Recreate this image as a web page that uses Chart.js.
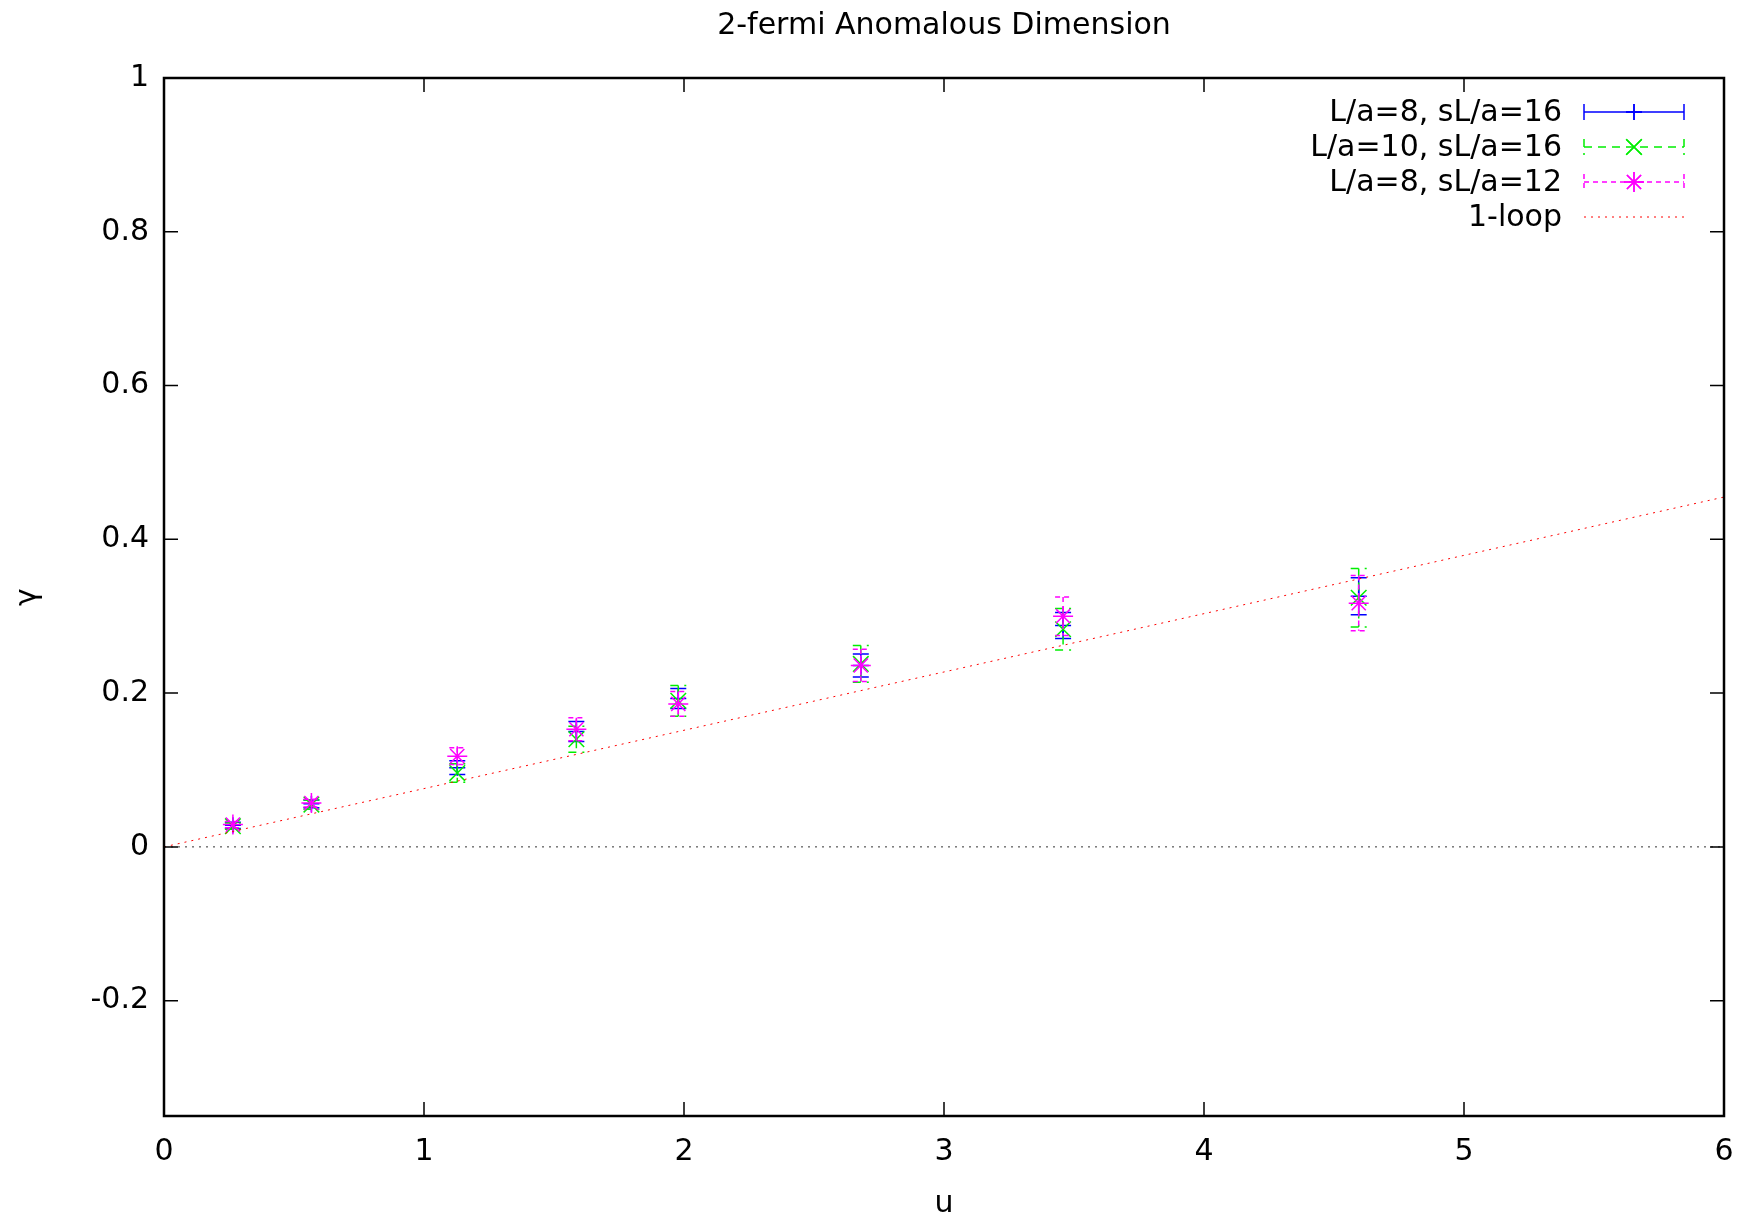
<!DOCTYPE html>
<html>
<head>
<meta charset="utf-8">
<script src="https://cdn.jsdelivr.net/npm/chart.js@4.4.0/dist/chart.umd.min.js"></script>
<style>
  html, body { margin: 0; padding: 0; background: #fff; }
  #wrap { width: 1754px; height: 1222px; }
</style>
</head>
<body>
<div id="wrap"><canvas id="gammaChart"></canvas></div>
<script>
// values
const uVals = [0.265, 0.567, 1.128, 1.586, 1.978, 2.680, 3.458, 4.595];

const gam8_16 = [0.028, 0.056, 0.103, 0.150, 0.193, 0.236, 0.288, 0.326];
const err8_16 = [0.004, 0.005, 0.009, 0.013, 0.013, 0.015, 0.017, 0.024];

const gam10_16 = [0.027, 0.055, 0.096, 0.140, 0.190, 0.238, 0.283, 0.324];
const err10_16 = [0.004, 0.006, 0.012, 0.017, 0.020, 0.024, 0.027, 0.038];

const gam8_12 = [0.029, 0.057, 0.118, 0.153, 0.186, 0.236, 0.300, 0.317];
const err8_12 = [0.004, 0.005, 0.011, 0.015, 0.016, 0.021, 0.025, 0.036];

const loopU = [0, 6];
const loopGam = [0, 0.455];

const xTicks = [0, 1, 2, 3, 4, 5, 6];
const yTicks = [-0.2, 0, 0.2, 0.4, 0.6, 0.8, 1];

const titleText = '2-fermi Anomalous Dimension';

const FONT = '"DejaVu Sans", sans-serif';
Chart.defaults.color = '#000';
Chart.defaults.font.family = FONT;

const pts = (xs, ys) => xs.map((x, i) => ({ x: x, y: ys[i] }));

// vertical error bars with caps, drawn just before each dataset's points
const errorBars = {
    id: 'errorBars',
    beforeDatasetDraw(chart, args) {
        const ds = chart.data.datasets[args.index];
        if (!ds.errors) return;
        const xs = chart.scales.x, ys = chart.scales.y;
        const ctx = chart.ctx;
        ctx.save();
        ctx.strokeStyle = ds.borderColor;
        ctx.lineWidth = 1.5;
        ctx.setLineDash(ds.errDash);
        ds.data.forEach((p, i) => {
            const e = ds.errors[i];
            const px = xs.getPixelForValue(p.x);
            const top = ys.getPixelForValue(p.y + e);
            const bot = ys.getPixelForValue(p.y - e);
            ctx.beginPath();
            ctx.moveTo(px, top); ctx.lineTo(px, bot);
            ctx.moveTo(px - 8, top); ctx.lineTo(px + 8, top);
            ctx.moveTo(px - 8, bot); ctx.lineTo(px + 8, bot);
            ctx.stroke();
        });
        ctx.restore();
    }
};

// gnuplot style frame with inward ticks on all sides, title over the plot box
const frame = {
    id: 'frame',
    afterDatasetsDraw(chart) {
        const { ctx, chartArea: a } = chart;
        const xs = chart.scales.x, ys = chart.scales.y;
        ctx.save();
        ctx.strokeStyle = '#000';
        ctx.lineWidth = 1.5;
        ctx.beginPath();
        xTicks.forEach(v => {
            const px = xs.getPixelForValue(v);
            ctx.moveTo(px, a.bottom); ctx.lineTo(px, a.bottom - 14);
            ctx.moveTo(px, a.top); ctx.lineTo(px, a.top + 14);
        });
        yTicks.forEach(v => {
            const py = ys.getPixelForValue(v);
            ctx.moveTo(a.left, py); ctx.lineTo(a.left + 14, py);
            ctx.moveTo(a.right, py); ctx.lineTo(a.right - 14, py);
        });
        ctx.stroke();
        ctx.lineWidth = 2.5;
        ctx.strokeRect(a.left, a.top, a.right - a.left, a.bottom - a.top);

        ctx.fillStyle = '#000';
        ctx.font = '30px ' + FONT;
        ctx.textAlign = 'center';
        ctx.textBaseline = 'middle';
        ctx.fillText(titleText, (a.left + a.right) / 2, 26);
        ctx.restore();
    }
};

// legend: right-aligned text, sample line to the right
const keyBox = {
    id: 'keyBox',
    afterDraw(chart) {
        const ctx = chart.ctx;
        const items = chart.data.datasets.filter(d => d.keyRow !== undefined);
        ctx.save();
        ctx.font = '30px ' + FONT;
        ctx.textAlign = 'right';
        ctx.textBaseline = 'middle';
        items.forEach(d => {
            const y = 112 + d.keyRow * 35;
            const x0 = 1584, x1 = 1684, xm = 1634;
            ctx.fillStyle = '#000';
            ctx.fillText(d.label, 1562, y + 1);
            ctx.strokeStyle = d.borderColor;
            ctx.lineWidth = d.errors ? 1.5 : 1;
            ctx.setLineDash(d.errors ? d.errDash : d.borderDash);
            ctx.beginPath();
            ctx.moveTo(x0, y); ctx.lineTo(x1, y);
            if (d.errors) {
                ctx.moveTo(x0, y - 8); ctx.lineTo(x0, y + 8);
                ctx.moveTo(x1, y - 8); ctx.lineTo(x1, y + 8);
            }
            ctx.stroke();
            ctx.setLineDash([]);
            if (d.errors) {
                Chart.helpers.drawPoint(ctx, {
                    pointStyle: d.pointStyle, radius: d.pointRadius,
                    borderWidth: 1.5, rotation: 0
                }, xm, y);
                ctx.stroke();
            }
        });
        ctx.restore();
    }
};

const markerSet = (label, ys, errs, color, style, radius, dash, row, order) => ({
    label: label,
    data: pts(uVals, ys),
    errors: errs,
    errDash: dash,
    keyRow: row,
    order: order,
    showLine: false,
    borderColor: color,
    backgroundColor: color,
    pointStyle: style,
    pointRadius: radius,
    pointHoverRadius: radius,
    pointBorderColor: color,
    pointBorderWidth: 1.5
});

const gammaChart = new Chart(document.getElementById('gammaChart'), {
    type: 'scatter',
    data: {
        datasets: [
            {
                label: '1-loop',
                data: pts(loopU, loopGam),
                type: 'line',
                keyRow: 3,
                order: 0,
                borderColor: '#ff0000',
                borderWidth: 1,
                borderDash: [2, 5],
                pointRadius: 0,
                fill: false
            },
            markerSet('L/a=8, sL/a=12', gam8_12, err8_12, '#ff00ff', 'star', 10, [5, 4], 2, 1),
            markerSet('L/a=10, sL/a=16', gam10_16, err10_16, '#00ee00', 'crossRot', 11, [8, 6], 1, 2),
            markerSet('L/a=8, sL/a=16', gam8_16, err8_16, '#0000ff', 'cross', 8, [], 0, 3),
            {
                label: 'zero',
                data: pts([0, 6], [0, 0]),
                type: 'line',
                order: 4,
                borderColor: '#333',
                borderWidth: 1,
                borderDash: [2, 5],
                pointRadius: 0,
                fill: false
            }
        ]
    },
    options: {
        responsive: true,
        maintainAspectRatio: false,
        animation: false,
        layout: { padding: { left: 0, right: 30, top: 78, bottom: 0 } },
        plugins: {
            legend: { display: false },
            tooltip: { enabled: false },
            title: { display: false }
        },
        scales: {
            x: {
                type: 'linear',
                min: 0,
                max: 6,
                grid: { display: false, drawTicks: false },
                border: { display: false },
                afterBuildTicks: s => { s.ticks = xTicks.map(v => ({ value: v })); },
                afterFit: s => { s.height = 106; },
                ticks: {
                    padding: 18,
                    maxRotation: 0,
                    font: { size: 30, family: FONT },
                    callback: v => String(v)
                },
                title: {
                    display: true,
                    text: 'u',
                    font: { size: 30, family: FONT },
                    padding: { top: 0, bottom: 0 }
                }
            },
            y: {
                type: 'linear',
                min: -0.35,
                max: 1,
                grid: { display: false, drawTicks: false },
                border: { display: false },
                afterBuildTicks: s => { s.ticks = yTicks.map(v => ({ value: v })); },
                afterFit: s => { s.width = 164; },
                ticks: {
                    padding: 15,
                    font: { size: 30, family: FONT },
                    callback: v => String(Math.round(v * 10) / 10)
                },
                title: {
                    display: true,
                    text: 'γ',
                    font: { size: 30, family: FONT },
                    padding: { top: 10, bottom: 0 }
                }
            }
        }
    },
    plugins: [errorBars, frame, keyBox]
});
</script>
</body>
</html>
